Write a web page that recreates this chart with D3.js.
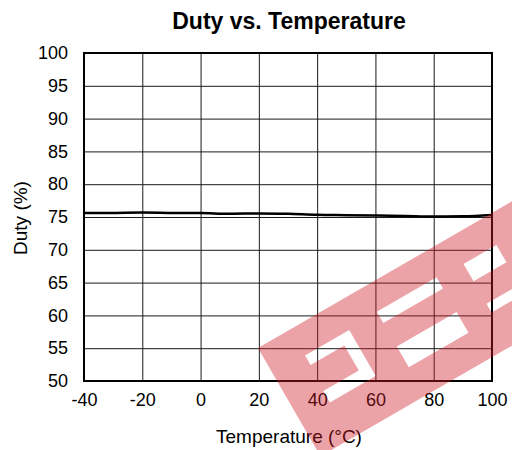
<!DOCTYPE html>
<html>
<head>
<meta charset="utf-8">
<script src="https://cdn.jsdelivr.net/npm/d3@7"></script>
<style>
  html, body { margin: 0; padding: 0; background: #fff; }
  svg { display: block; }
  text { font-family: "Liberation Sans", Arial, sans-serif; fill: #000; }
</style>
</head>
<body>
<svg id="chart" width="512" height="450"></svg>
<script>
// ---- data ----
const temperatures = [-40, -30, -20, -10, 0, 10, 20, 30, 40, 50, 60, 70, 80, 90, 100];
const dutyValues   = [75.6, 75.62, 75.67, 75.62, 75.6, 75.5, 75.55, 75.48, 75.33, 75.28, 75.22, 75.15, 75.06, 75.1, 75.3];
const xTicks = [-40, -20, 0, 20, 40, 60, 80, 100];
const yTicks = [50, 55, 60, 65, 70, 75, 80, 85, 90, 95, 100];
const titleText = "Duty vs. Temperature";
const xLabel = "Temperature (°C)";
const yLabel = "Duty (%)";

// ---- layout ----
const svg = d3.select("#chart");
const W = 512, H = 450;
const m = { left: 84, right: 20, top: 53, bottom: 69 };
const pw = W - m.left - m.right; // 408
const ph = H - m.top - m.bottom; // 328

svg.append("rect").attr("width", W).attr("height", H).attr("fill", "#fff");

const x = d3.scaleLinear().domain([-40, 100]).range([m.left, m.left + pw]);
const y = d3.scaleLinear().domain([50, 100]).range([m.top + ph, m.top]);
const fmt = d => String(d);

// gridlines via axes
const gx = svg.append("g")
  .attr("transform", `translate(0,${m.top + ph})`)
  .call(d3.axisBottom(x).tickValues(xTicks).tickSizeInner(-ph).tickSizeOuter(0).tickPadding(12).tickFormat(fmt));
gx.select(".domain").remove();
gx.selectAll(".tick line").attr("stroke", "#1a1a1a").attr("stroke-width", 1);
gx.selectAll(".tick text").attr("font-size", 18).attr("dy", "0.71em");

const gy = svg.append("g")
  .attr("transform", `translate(${m.left},0)`)
  .call(d3.axisLeft(y).tickValues(yTicks).tickSizeInner(-pw).tickSizeOuter(0).tickPadding(16).tickFormat(fmt));
gy.select(".domain").remove();
gy.selectAll(".tick line").attr("stroke", "#1a1a1a").attr("stroke-width", 1);
gy.selectAll(".tick text").attr("font-size", 18);

// frame
svg.append("rect")
  .attr("x", m.left).attr("y", m.top).attr("width", pw).attr("height", ph)
  .attr("fill", "none").attr("stroke", "#000").attr("stroke-width", 2);

// data line
const line = d3.line()
  .x((d, i) => x(temperatures[i]))
  .y(d => y(d))
  .curve(d3.curveMonotoneX);
svg.append("path")
  .datum(dutyValues)
  .attr("d", line)
  .attr("fill", "none")
  .attr("stroke", "#000")
  .attr("stroke-width", 2.5);

// title and axis labels
svg.append("text")
  .attr("x", 289).attr("y", 29)
  .attr("text-anchor", "middle")
  .attr("font-size", 23).attr("font-weight", "bold")
  .text(titleText);

svg.append("text")
  .attr("x", 289).attr("y", 443)
  .attr("text-anchor", "middle")
  .attr("font-size", 19)
  .text(xLabel);

svg.append("text")
  .attr("transform", "translate(27,218) rotate(-90)")
  .attr("text-anchor", "middle")
  .attr("font-size", 19)
  .text(yLabel);

// watermark overlay (red translucent band with cut-outs)
const wm = svg.append("g").attr("transform", "translate(258,348) rotate(-30)");
const band = "M0,0 L420,0 L420,125 L0,125 Z";
const holes = [
  "M37,30 L88,30 L88,83 L35,83 L35,70 L76,70 L76,41 L37,41 Z",
  "M121,28 L190,28 L190,41 L121,41 Z",
  "M121,68 L190,68 L190,92 L121,92 Z",
  "M220,30 L258,30 L258,50 L220,50 Z",
  "M220,76 L265,76 L265,86 L220,86 Z"
];
wm.append("path")
  .attr("d", band + " " + holes.join(" "))
  .attr("fill-rule", "evenodd")
  .attr("fill", "rgb(205,25,37)")
  .attr("opacity", 0.4);
</script>
</body>
</html>
